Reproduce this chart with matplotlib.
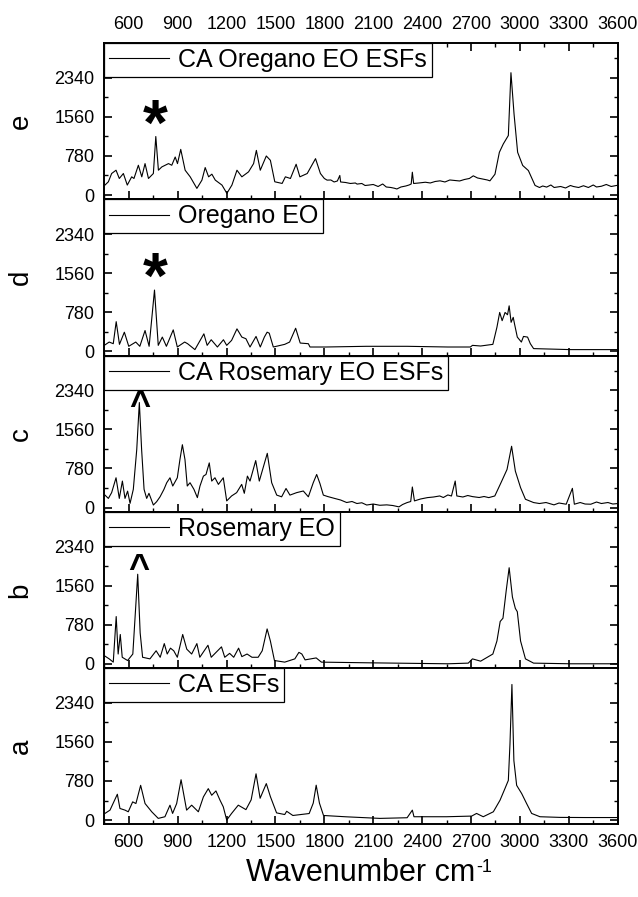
import matplotlib
matplotlib.use("Agg")
import matplotlib.pyplot as plt
from matplotlib.ticker import MultipleLocator

plt.rcParams['font.family'] = ['Liberation Sans', 'DejaVu Sans']

# ---------------- data ----------------
x_ticks = [600, 900, 1200, 1500, 1800, 2100, 2400, 2700, 3000, 3300, 3600]
y_ticks = [0, 780, 1560, 2340]

panel_letters = ['e', 'd', 'c', 'b', 'a']
legend_names = ['CA Oregano EO ESFs', 'Oregano EO', 'CA Rosemary EO ESFs',
                'Rosemary EO', 'CA ESFs']

e_x = [454, 475, 495, 522, 542, 567, 591, 618, 632, 659, 680, 700, 721, 751, 766,
       782, 803, 844, 864, 885, 899, 919, 946, 977, 1018, 1049, 1069, 1090, 1110,
       1131, 1172, 1202, 1233, 1264, 1294, 1335, 1366, 1383, 1407, 1444, 1469,
       1496, 1541, 1561, 1592, 1627, 1650, 1695, 1746, 1776, 1800, 1817, 1840,
       1860, 1880, 1895, 1900, 1930, 1960, 1990, 2001, 2030, 2050, 2073, 2100,
       2130, 2158, 2180, 2208, 2230, 2245, 2270, 2300, 2320, 2333, 2340, 2348,
       2380, 2420, 2450, 2480, 2510, 2540, 2570, 2600, 2630, 2660, 2690, 2714,
       2740, 2770, 2800, 2816, 2847, 2874, 2898, 2929, 2945, 2964, 2986, 3017,
       3052, 3093, 3120, 3140, 3164, 3190, 3210, 3250, 3280, 3310, 3328, 3360,
       3390, 3420, 3450, 3470, 3500, 3530, 3560, 3594]
e_y = [198, 264, 429, 495, 330, 429, 198, 363, 330, 594, 363, 627, 330, 429, 1168,
       495, 561, 627, 594, 759, 627, 911, 495, 363, 132, 297, 548, 363, 416,
       297, 198, 33, 198, 495, 363, 462, 627, 891, 495, 779, 693,
       264, 231, 363, 330, 614, 363, 429, 726, 429, 330, 297, 300,
       260, 280, 390, 260, 250, 230, 240, 218, 230, 190, 198, 210,
       170, 220, 160, 150, 135, 120, 160, 180, 200, 220, 455, 230,
       240, 255, 240, 270, 283, 260, 300, 290, 280, 310, 330, 383,
       340, 320, 300, 283, 415, 853, 1019, 1188, 2442, 1617, 853, 590,
       488, 191, 150, 180, 158, 200, 150, 170, 140, 190, 170, 150,
       185, 150, 200, 160, 175, 210, 170, 191]

d_x = [450, 480, 505, 523, 543, 573, 600, 643, 668, 700, 725, 758, 781, 806, 831,
       873, 898, 943, 961, 1006, 1061, 1081, 1106, 1144, 1181, 1201, 1231, 1264,
       1294, 1319, 1344, 1381, 1407, 1432, 1449, 1462, 1487, 1557, 1587, 1624,
       1652, 1702, 1712, 1807, 2058, 2308, 2558, 2696, 2709, 2759, 2834, 2859,
       2876, 2891, 2909, 2924, 2934, 2946, 2959, 2967, 2984, 3009, 3022, 3047,
       3064, 3084, 3310, 3600]
d_y = [118, 184, 151, 591, 138, 381, 99, 184, 99, 414, 99, 1222, 118, 283, 99,
       427, 85, 184, 151, 33, 348, 118, 230, 85, 230, 118, 217, 447,
       283, 250, 85, 296, 85, 283, 381, 361, 85, 138, 184, 460,
       164, 151, 85, 85, 99, 99, 85, 85, 118, 105, 138, 480,
       775, 611, 775, 729, 907, 578, 677, 545, 283, 184, 296, 283,
       151, 53, 33, 33]

c_x = [454, 475, 495, 522, 542, 561, 577, 593, 608, 628, 649, 665, 679, 694, 710,
       724, 751, 771, 792, 816, 833, 853, 870, 898, 914, 929, 945, 959, 976,
       1000, 1021, 1037, 1058, 1074, 1094, 1109, 1129, 1150, 1180, 1201, 1231,
       1262, 1293, 1309, 1328, 1344, 1379, 1401, 1450, 1477, 1508, 1538, 1565,
       1589, 1630, 1671, 1702, 1732, 1753, 1773, 1794, 1820, 1865, 1900, 1937,
       1970, 2000, 2030, 2060, 2100, 2140, 2183, 2220, 2258, 2280, 2308, 2330,
       2340, 2353, 2390, 2433, 2470, 2508, 2530, 2558, 2580, 2603, 2613, 2650,
       2680, 2709, 2750, 2780, 2809, 2846, 2884, 2921, 2949, 2972, 3004, 3034,
       3084, 3120, 3160, 3209, 3240, 3284, 3322, 3334, 3370, 3400, 3435, 3470,
       3500, 3540, 3570, 3600]
c_y = [248, 182, 297, 594, 182, 528, 182, 327, 83, 363, 1155, 2096, 1155, 363, 182,
       284, 50, 116, 214, 363, 495, 594, 429, 594, 957, 1254, 957, 429, 495,
       363, 198, 429, 627, 660, 891, 528, 594, 462, 594, 132, 231,
       297, 462, 284, 627, 528, 937, 528, 1082, 495, 248, 214, 380,
       248, 297, 330, 214, 495, 660, 480, 248, 220, 180, 150, 100,
       120, 80, 95, 50, 70, 45, 53, 40, 13, 60, 99, 120,
       410, 132, 170, 198, 210, 231, 200, 251, 230, 529, 231, 210,
       240, 218, 200, 220, 198, 231, 496, 760, 1223, 727, 397, 165,
       99, 80, 100, 53, 90, 66, 383, 66, 100, 70, 66, 110,
       80, 100, 70, 79]

b_x = [450, 480, 505, 523, 535, 548, 560, 593, 625, 655, 670, 685, 730, 768, 793,
       818, 836, 856, 876, 898, 931, 956, 986, 1018, 1036, 1086, 1106, 1169, 1189,
       1219, 1244, 1274, 1294, 1326, 1356, 1394, 1419, 1449, 1469, 1494, 1557,
       1619, 1644, 1662, 1682, 1750, 1782, 2058, 2558, 2683, 2709, 2759, 2834,
       2859, 2879, 2896, 2916, 2934, 2954, 2972, 2984, 3004, 3034, 3084, 3310,
       3600]
b_y = [162, 98, 33, 943, 195, 585, 130, 65, 195, 1788, 618, 130, 98, 260, 130,
       403, 195, 312, 260, 130, 585, 292, 195, 403, 130, 370, 130, 338, 130,
       208, 130, 312, 143, 195, 130, 130, 260, 696, 455, 65, 33,
       98, 228, 195, 78, 117, 33, 20, 0, 13, 98, 52, 195,
       455, 845, 910, 1463, 1918, 1333, 1105, 1040, 455, 98, 13, 0,
       0]

a_x = [454, 485, 530, 546, 577, 597, 624, 644, 673, 700, 741, 781, 822, 853, 869,
       894, 921, 955, 986, 1027, 1058, 1088, 1109, 1135, 1160, 1180, 1201, 1231,
       1272, 1319, 1351, 1381, 1406, 1444, 1469, 1507, 1557, 1569, 1607, 1707,
       1732, 1750, 1770, 1795, 1932, 2141, 2308, 2340, 2350, 2550, 2704, 2734,
       2775, 2837, 2878, 2908, 2929, 2939, 2951, 2963, 2980, 3011, 3041, 3072,
       3123, 3246, 3400, 3600]
a_y = [132, 198, 515, 231, 198, 165, 363, 330, 693, 330, 165, 33, 66, 297, 132,
       330, 805, 198, 297, 165, 462, 627, 495, 581, 396, 264, 0, 132,
       297, 208, 403, 923, 435, 728, 468, 143, 110, 175, 91, 130,
       338, 696, 338, 91, 65, 33, 46, 198, 66, 66, 79, 132,
       66, 165, 396, 627, 792, 1518, 2707, 1188, 693, 528, 330, 132,
       66, 53, 50, 50]

# annotation marks: (panel index, symbol, x, y)
marks = [(0, '*', 765, 1340), (1, '*', 760, 1400),
         (2, '^', 668, 2020), (3, '^', 660, 1880)]

series = [(e_x, e_y), (d_x, d_y), (c_x, c_y), (b_x, b_y), (a_x, a_y)]

# ---------------- figure ----------------
W, H = 638, 897
fig = plt.figure(figsize=(W / 100, H / 100), dpi=100)

left_px, right_px = 104.3, 617.7
top_px, bottom_px = 43.0, 824.3
ph = (bottom_px - top_px) / 5

axes = []
for i in range(5):
    top = top_px + i * ph
    ax = fig.add_axes([left_px / W, 1 - (top + ph) / H,
                       (right_px - left_px) / W, ph / H])
    axes.append(ax)
    xs, ys = series[i]
    ax.plot(xs, ys, color='black', lw=0.8, label=legend_names[i])
    ax.set_xlim(450, 3600)
    ax.set_ylim(-85, 3035)
    ax.set_xticks(x_ticks)
    ax.set_yticks(y_ticks)
    ax.xaxis.set_minor_locator(MultipleLocator(150))
    ax.yaxis.set_minor_locator(MultipleLocator(390))
    for s in ax.spines.values():
        s.set_linewidth(1.4)
    ax.tick_params(axis='both', which='major', direction='in', length=6,
                   width=1.2, labelsize=13, pad=7)
    ax.tick_params(axis='both', which='minor', direction='in', length=3,
                   width=1.0)
    ax.tick_params(axis='y', which='both', left=True, right=True)
    if i == 0:
        ax.tick_params(axis='x', which='both', top=True, bottom=True,
                       labeltop=True, labelbottom=False)
    elif i == 4:
        ax.tick_params(axis='x', which='both', top=False, bottom=True,
                       labelbottom=True)
    else:
        ax.tick_params(axis='x', which='both', top=False, bottom=True,
                       labelbottom=False)
    ax.set_ylabel(panel_letters[i], fontsize=20)
    ax.yaxis.set_label_coords(-0.138, 0.5)
    leg = ax.legend(loc='upper left', bbox_to_anchor=(0, 1), borderaxespad=0,
                    fontsize=18, frameon=True, fancybox=False, framealpha=1,
                    edgecolor='black', handlelength=2.4, handletextpad=0.35,
                    borderpad=0.2)
    leg.get_frame().set_linewidth(0.9)
    leg.get_lines()[0].set_linewidth(0.8)

for idx, sym, mx, my in marks:
    fs = 46 if sym == '*' else 26
    axes[idx].text(mx, my, sym, ha='center', va='center', fontsize=fs,
                   fontweight='bold', color='black')

xl = axes[4].set_xlabel('Wavenumber cm', fontsize=22, labelpad=5)
fig.canvas.draw()
bb = xl.get_window_extent()
fig.text((bb.x1 + 1) / W, (bb.y1 - 1) / H, '-1', fontsize=13,
         ha='left', va='top')

fig.savefig('out.png', dpi=100)
